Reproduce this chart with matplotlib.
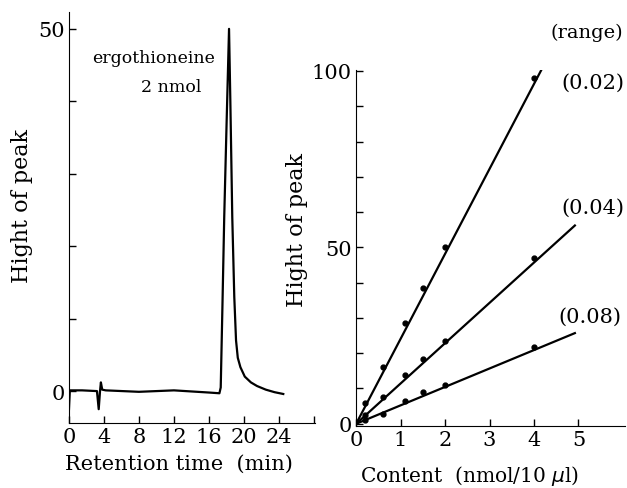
import numpy as np
import matplotlib.pyplot as plt

plt.rcParams['font.family'] = ['DejaVu Serif']

## chromatogram (left)
ret_time = [0, 0.1, 1.5, 3.2, 3.4, 3.55, 3.65, 3.8, 4.2, 8, 12, 16, 17.2,
            17.35, 17.55, 17.75, 18.0, 18.3, 18.45, 18.67, 18.9, 19.1, 19.3,
            19.6, 20.1, 20.8, 21.5, 22.5, 23.5, 24.5]
signal = [-2.5, 0.1, 0.1, 0.0, -2.5, 0.0, 1.2, 0.2, 0.1, -0.1, 0.1, -0.2, -0.3,
          0.5, 12, 24, 36, 50, 40, 24, 13, 7, 4.6,
          3.3, 2.0, 1.2, 0.7, 0.2, -0.15, -0.4]

## calibration (right)
content = [0.2, 0.6, 1.1, 1.5, 2.0, 4.0]
peak_002 = [5.8, 16, 28.6, 38.5, 50, 98]
peak_004 = [2.4, 7.6, 13.7, 18.4, 23.5, 47]
peak_008 = [1.2, 2.8, 6.5, 9.0, 11, 21.8]
fit_x_002 = [0, 4.17]
fit_y_002 = [0, 100.4]
fit_x = [0, 4.92]
fit_y_004 = [0, 56.2]
fit_y_008 = [0, 25.7]
range_labels = ['(0.02)', '(0.04)', '(0.08)']

fig = plt.figure(figsize=(6.27, 4.89), dpi=100)

ax1 = fig.add_axes([0.110, 0.133, 0.392, 0.840])
ax1.plot(ret_time, signal, 'k-', lw=1.6)
ax1.set_xlim(0, 28.1)
ax1.set_ylim(-4.4, 52.3)
ax1.set_xticks([0, 4, 8, 12, 16, 20, 24, 28])
ax1.set_xticklabels(['0', '4', '8', '12', '16', '20', '24', ''])
ax1.set_yticks([0, 10, 20, 30, 40, 50])
ax1.set_yticklabels(['0', '', '', '', '', '50'])
ax1.spines['top'].set_visible(False)
ax1.spines['right'].set_visible(False)
ax1.tick_params(direction='in', length=5, width=1, labelsize=15, pad=3)
ax1.set_xlabel('Retention time  (min)', fontsize=15)
ax1.xaxis.set_label_coords(0.447, -0.075)
ax1.set_ylabel('Hight of peak', fontsize=16)
ax1.yaxis.set_label_coords(-0.146, 0.53)
ax1.text(9.7, 46.1, 'ergothioneine', fontsize=12.5, ha='center', va='center')
ax1.text(11.7, 42.0, '2 nmol', fontsize=12.5, ha='center', va='center')

ax2 = fig.add_axes([0.568, 0.127, 0.429, 0.728])
ax2.plot(fit_x_002, fit_y_002, 'k-', lw=1.6)
ax2.plot(fit_x, fit_y_004, 'k-', lw=1.6)
ax2.plot(fit_x, fit_y_008, 'k-', lw=1.6)
for ys in (peak_002, peak_004, peak_008):
    ax2.plot(content, ys, 'ko', ms=3.5)
ax2.set_xlim(0, 6.05)
ax2.set_ylim(-0.6, 100.3)
ax2.set_xticks([0, 1, 2, 3, 4, 5])
ax2.set_yticks(np.arange(0, 101, 10))
ax2.set_yticklabels(['0', '', '', '', '', '50', '', '', '', '', '100'])
ax2.spines['top'].set_visible(False)
ax2.spines['right'].set_visible(False)
ax2.tick_params(direction='in', length=5, width=1, labelsize=15, pad=3)
ax2.set_xlabel('Content  (nmol/10 $\\mu$l)', fontsize=14.5)
ax2.xaxis.set_label_coords(0.42, -0.105)
ax2.set_ylabel('Hight of peak', fontsize=16)
ax2.yaxis.set_label_coords(-0.178, 0.553)
ax2.text(5.19, 111, '(range)', fontsize=14, ha='center', va='center', clip_on=False)
for lab, yy, xx in zip(range_labels, [96.9, 61.5, 30.6], [5.33, 5.33, 5.26]):
    ax2.text(xx, yy, lab, fontsize=15, ha='center', va='center', clip_on=False)

fig.savefig('out.png', dpi=100)
